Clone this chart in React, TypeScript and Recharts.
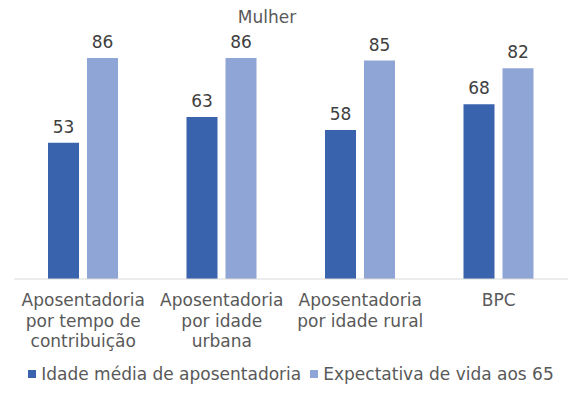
import React from 'react';
import { BarChart, Bar, XAxis, YAxis, LabelList, Legend } from 'recharts';

// categories (line breaks as in the original axis)
const categories = [
  'Aposentadoria\npor tempo de\ncontribuição',
  'Aposentadoria\npor idade\nurbana',
  'Aposentadoria\npor idade rural',
  'BPC',
];
const idadeMedia = [53, 63, 58, 68];
const expectativa = [86, 86, 85, 82];

const seriesNames = ['Idade média de aposentadoria', 'Expectativa de vida aos 65'];
const colors = ['#3A63AD', '#8FA5D5'];

const data = categories.map((name, i) => ({
  name,
  idade: idadeMedia[i],
  expectativa: expectativa[i],
}));

const FONT = "'DejaVu Sans', sans-serif";
const FS = 17;

const CategoryTick = (props: any) => {
  const { x, y, payload } = props;
  const lines = String(payload.value).split('\n');
  return (
    <text x={x} y={y + 11} textAnchor="middle" fill="#595959" fontSize={FS} fontFamily={FONT}>
      {lines.map((l, i) => (
        <tspan key={i} x={x} dy={i === 0 ? 8 : 20.5}>{l}</tspan>
      ))}
    </text>
  );
};

const LegendContent = () => (
  <div style={{ display: 'flex', justifyContent: 'center', fontFamily: FONT, fontSize: FS, color: '#595959', height: 24, lineHeight: '24px' }}>
    {seriesNames.map((n, i) => (
      <span key={n} style={{ display: 'inline-flex', alignItems: 'center', marginRight: i === 0 ? 9 : 0 }}>
        <span style={{ width: 8, height: 8, background: colors[i], display: 'inline-block', marginRight: 5 }} />
        {n}
      </span>
    ))}
  </div>
);

export default function App() {
  return (
    <div style={{ position: 'fixed', left: 0, top: 0, width: 582, height: 396, background: '#fff' }}>
      <BarChart
        width={582}
        height={396}
        data={data}
        margin={{ top: 22, right: 14, left: 14, bottom: 0 }}
        barGap={8}
      >
        <text x={267} y={23} textAnchor="middle" fill="#595959" fontSize={FS} fontFamily={FONT}>Mulher</text>
        <XAxis
          dataKey="name"
          axisLine={{ stroke: '#D9D9D9' }}
          tickLine={false}
          interval={0}
          height={93}
          tick={<CategoryTick />}
        />
        <YAxis hide domain={[0, 100]} />
        <Legend verticalAlign="bottom" content={<LegendContent />} wrapperStyle={{ bottom: 10 }} />
        <Bar dataKey="idade" name={seriesNames[0]} fill={colors[0]} barSize={31} isAnimationActive={false}>
          <LabelList dataKey="idade" position="top" offset={10} fill="#404040" fontSize={FS} fontFamily={FONT} />
        </Bar>
        <Bar dataKey="expectativa" name={seriesNames[1]} fill={colors[1]} barSize={31} isAnimationActive={false}>
          <LabelList dataKey="expectativa" position="top" offset={10} fill="#404040" fontSize={FS} fontFamily={FONT} />
        </Bar>
      </BarChart>
    </div>
  );
}
